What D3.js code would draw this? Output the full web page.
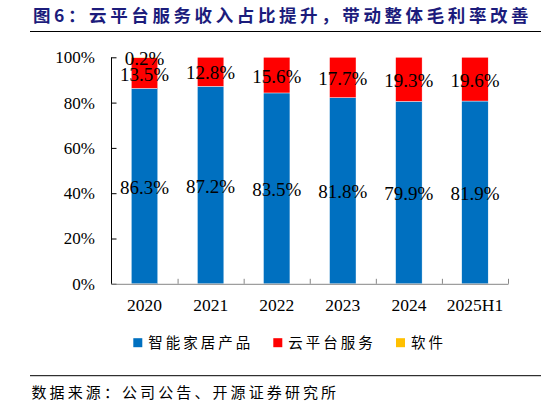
<!DOCTYPE html>
<html>
<head>
<meta charset="utf-8">
<script src="https://cdn.jsdelivr.net/npm/d3@7"></script>
<style>
  html, body { margin: 0; padding: 0; background: #fff; }
  svg { display: block; }
</style>
</head>
<body>
<div id="chart"></div>
<script>
// Daten (in %)
const years = ["2020", "2021", "2022", "2023", "2024", "2025H1"];
const smartHome = [86.3, 87.2, 83.5, 81.8, 79.9, 81.9];   // 智能家居产品
const cloudService = [13.5, 12.8, 15.6, 17.7, 19.3, 19.6]; // 云平台服务
const software = [0.2, 0, 0, 0, 0, 0];                     // 软件
const seriesNames = ["智能家居产品", "云平台服务", "软件"];
const seriesColors = ["#0070C0", "#FF0000", "#FFC000"];
const yTicks = [0, 20, 40, 60, 80, 100];

const W = 546, H = 405;
const m = { top: 57.3, right: 38, bottom: 121.2, left: 111.5 };
const innerW = W - m.left - m.right, innerH = H - m.top - m.bottom;

const serif = "'Liberation Serif', 'Times New Roman', serif";
const cjk = "'Noto Sans CJK SC', 'Noto Sans', sans-serif";

const svg = d3.select("#chart").append("svg").attr("width", W).attr("height", H);

// Titel + Linien
svg.append("text")
  .attr("x", 33).attr("y", 16).attr("dy", "0.35em")
  .style("font-family", cjk).style("font-size", "17.5px").style("font-weight", 700)
  .style("letter-spacing", "3.6px").style("fill", "#1c1c7c")
  .text("图6：云平台服务收入占比提升，带动整体毛利率改善");
svg.append("line").attr("x1", 30).attr("x2", 541).attr("y1", 31.5).attr("y2", 31.5)
  .attr("stroke", "#000").attr("stroke-width", 1);
svg.append("line").attr("x1", 30).attr("x2", 541).attr("y1", 375.7).attr("y2", 375.7)
  .attr("stroke", "#000").attr("stroke-width", 1);
svg.append("text")
  .attr("x", 31.5).attr("y", 392.7).attr("dy", "0.35em")
  .style("font-family", cjk).style("font-size", "15px")
  .style("letter-spacing", "3.1px").style("fill", "#000")
  .text("数据来源：公司公告、开源证券研究所");

const g = svg.append("g").attr("transform", `translate(${m.left},${m.top})`);

// Stapel (100% gestapelt wie in Excel)
const rows = years.map((yr, i) => ({ year: yr, s0: smartHome[i], s1: cloudService[i], s2: software[i] }));
const keys = ["s0", "s1", "s2"];
const stack = d3.stack().keys(keys).offset(d3.stackOffsetExpand)(rows);

const x = d3.scaleBand().domain(years).range([0, innerW]).paddingInner(0.6).paddingOuter(0.3);
const y = d3.scaleLinear().domain([0, 1]).range([innerH, 0]);

// Balken
stack.forEach((layer, li) => {
  g.append("g").selectAll("rect")
    .data(layer)
    .join("rect")
    .attr("x", d => x(d.data.year))
    .attr("width", x.bandwidth())
    .attr("y", d => y(d[1]))
    .attr("height", d => Math.max(0, y(d[0]) - y(d[1])))
    .attr("fill", seriesColors[li])
    .attr("stroke", "#fff").attr("stroke-width", 0.4);
});

// Wertelabels
stack.forEach((layer, li) => {
  g.append("g").selectAll("text")
    .data(layer.filter(d => d.data[keys[li]] > 0))
    .join("text")
    .attr("x", d => x(d.data.year) + x.bandwidth() / 2)
    .attr("y", d => (y(d[0]) + y(d[1])) / 2 + 1)
    .attr("dy", "0.35em")
    .attr("text-anchor", "middle")
    .style("font-family", serif).style("font-size", "19px").style("fill", "#000")
    .text(d => d.data[keys[li]].toFixed(1) + "%");
});

// Y-Achse (Ticks nach innen)
const yAxis = g.append("g")
  .call(d3.axisRight(y.copy().domain([0, 100])).tickValues(yTicks).tickSize(5).tickFormat(""));
yAxis.select(".domain").attr("d", `M0,${innerH}V0`).attr("stroke", "#000");
yAxis.selectAll(".tick line").attr("stroke", "#000");
g.append("g").selectAll("text")
  .data(yTicks)
  .join("text")
  .attr("x", -16.5)
  .attr("y", d => y(d / 100))
  .attr("dy", "0.35em")
  .attr("text-anchor", "end")
  .style("font-family", serif).style("font-size", "17px").style("fill", "#000")
  .text(d => d + "%");

// X-Achse: Ticks an Bandgrenzen, nach oben
const xb = d3.scaleLinear().domain([0, years.length]).range([0, innerW]);
const xAxis = g.append("g").attr("transform", `translate(0,${innerH})`)
  .call(d3.axisTop(xb).tickValues(d3.range(1, years.length + 1)).tickSize(5).tickSizeOuter(0).tickFormat(""));
xAxis.select(".domain").attr("stroke", "#868686");
xAxis.selectAll(".tick line").attr("stroke", "#868686");
g.append("g").selectAll("text")
  .data(years)
  .join("text")
  .attr("x", d => x(d) + x.bandwidth() / 2)
  .attr("y", innerH + 21)
  .attr("dy", "0.35em")
  .attr("text-anchor", "middle")
  .style("font-family", serif).style("font-size", "17.5px").style("fill", "#000")
  .text(d => d);

// Legende
const legendX = [133.3, 273.3, 396];
const legend = svg.append("g").selectAll("g")
  .data(seriesNames)
  .join("g")
  .attr("transform", (d, i) => `translate(${legendX[i]},342.7)`);
legend.append("rect").attr("x", 0).attr("y", -4.5).attr("width", 9).attr("height", 9)
  .attr("fill", (d, i) => seriesColors[i]);
legend.append("text").attr("x", 15).attr("dy", "0.35em")
  .style("font-family", cjk).style("font-size", "14.5px")
  .style("letter-spacing", "3px").style("fill", "#000")
  .text(d => d);
</script>
</body>
</html>
